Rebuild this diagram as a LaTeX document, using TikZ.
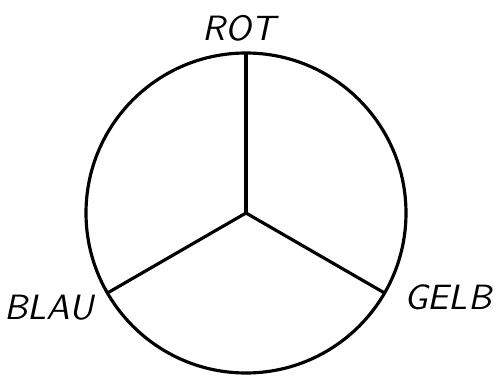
\documentclass[tikz,border=0pt]{standalone}
\usepackage{tikz}
\usetikzlibrary{positioning}

\begin{document}
\begin{tikzpicture}[
  disc/.style={circle, draw, line width=0.9pt, minimum size=3.2cm, inner sep=0pt, outer sep=0pt},
  spoke/.style={line width=0.9pt},
  farbe/.style={font=\sffamily\itshape\fontsize{10}{12}\selectfont, inner sep=1pt},
]
  \useasboundingbox (0,0) rectangle (4.99,3.78);

  \node[farbe] (rot)  at (2.39,3.50) {ROT};
  \node[farbe] (blau) at (0.49,0.70) {BLAU};
  \node[farbe] (gelb) at (4.48,0.81) {GELB};

  \node[disc] (rad) at (2.46,1.65) {};
  \draw[spoke] (rad.center) -- (rad.90);
  \draw[spoke] (rad.center) -- (rad.210);
  \draw[spoke] (rad.center) -- (rad.330);
\end{tikzpicture}
\end{document}
